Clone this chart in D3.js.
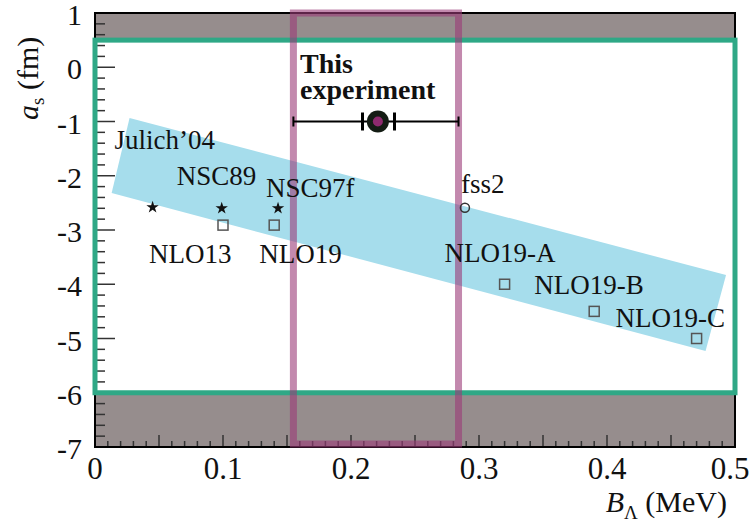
<!DOCTYPE html>
<html>
<head>
<meta charset="utf-8">
<script src="https://cdn.jsdelivr.net/npm/d3@7"></script>
<style>
  body { margin: 0; background: #fff; }
  text { font-family: "Liberation Serif", "Times New Roman", serif; }
</style>
</head>
<body>
<div id="chart"></div>
<script>
// model predictions: B_Lambda (MeV) vs a_s (fm)
var starNames = ["Julich\u201904", "NSC89", "NSC97f"];
var starX = [0.045, 0.099, 0.143];
var starY = [-2.58, -2.6, -2.6];

var squareNames = ["NLO13", "NLO19", "NLO19-A", "NLO19-B", "NLO19-C"];
var squareX = [0.100, 0.140, 0.320, 0.390, 0.470];
var squareY = [-2.91, -2.91, -4.0, -4.5, -5.0];

var circleNames = ["fss2"];
var circleX = [0.289];
var circleY = [-2.59];

// this experiment
var expX = 0.221, expY = -1.0;
var expStat = [0.209, 0.234];
var expTot = [0.155, 0.284];

// allowed a_s region (green) and correlation band (blue)
var aRange = [-6.0, 0.5];
var bandCorners = [[0.027, -0.935], [0.493, -3.83], [0.477, -5.23], [0.013, -2.32]];

var xTickValues = [0, 0.1, 0.2, 0.3, 0.4, 0.5];
var xTickLabels = ["0", "0.1", "0.2", "0.3", "0.4", "0.5"];
var yTickValues = [1, 0, -1, -2, -3, -4, -5, -6, -7];
var yTickLabels = ["1", "0", "-1", "-2", "-3", "-4", "-5", "-6", "-7"];

// label offsets from each marker (px)
var labelOffsets = {
  "Julich\u201904": [-38, -58], "NSC89": [-45, -23], "NSC97f": [-12, -11],
  "NLO13": [-74, 38], "NLO19": [-15, 38], "fss2": [-4, -15],
  "NLO19-A": [-60, -22], "NLO19-B": [-60, -17], "NLO19-C": [-81, -12]
};

var width = 751, height = 524;
var x = d3.scaleLinear().domain([0, 0.5]).range([95, 735]);
var y = d3.scaleLinear().domain([-7, 1]).range([447, 13]);

var svg = d3.select("#chart").append("svg")
    .attr("width", width).attr("height", height);

// gray excluded bands
svg.append("rect")
    .attr("x", x(0)).attr("y", y(1))
    .attr("width", x(0.5) - x(0)).attr("height", y(aRange[1]) - y(1))
    .attr("fill", "#968d8d");
svg.append("rect")
    .attr("x", x(0)).attr("y", y(aRange[0]))
    .attr("width", x(0.5) - x(0)).attr("height", y(-7) - y(aRange[0]))
    .attr("fill", "#968d8d");

// blue band
svg.append("polygon")
    .attr("points", bandCorners.map(function(c) { return x(c[0]) + "," + y(c[1]); }).join(" "))
    .attr("fill", "#a6ddec");

// ticks
var ticks = svg.append("g").attr("stroke", "#333").attr("stroke-width", 1.5);
d3.range(0, 50.5, 1).forEach(function(i) {
  var v = i / 100;
  var len = (i % 5 === 0) ? 12 : 6;
  ticks.append("line")
      .attr("x1", x(v)).attr("x2", x(v))
      .attr("y1", y(-7)).attr("y2", y(-7) - len);
});
d3.range(0, 41, 1).forEach(function(i) {
  var v = 1 - i * 0.2;
  var len = (i % 5 === 0) ? 20 : 10;
  ticks.append("line")
      .attr("x1", x(0)).attr("x2", x(0) + len)
      .attr("y1", y(v)).attr("y2", y(v));
});

// frame
svg.append("rect")
    .attr("x", x(0)).attr("y", y(1))
    .attr("width", x(0.5) - x(0)).attr("height", y(-7) - y(1))
    .attr("fill", "none").attr("stroke", "#000").attr("stroke-width", 2);

// green box
svg.append("rect")
    .attr("x", x(0)).attr("y", y(aRange[1]))
    .attr("width", x(0.5) - x(0)).attr("height", y(aRange[0]) - y(aRange[1]))
    .attr("fill", "none").attr("stroke", "#2fa886").attr("stroke-width", 5);

// purple box: this experiment's range
svg.append("rect")
    .attr("x", x(expTot[0])).attr("y", y(1))
    .attr("width", x(expTot[1]) - x(expTot[0])).attr("height", y(-7) - 3 - y(1))
    .attr("fill", "none").attr("stroke", "#9b3a78")
    .attr("stroke-opacity", 0.6).attr("stroke-width", 7);

// markers
var starSym = d3.symbol().type(d3.symbolStar).size(48);
svg.append("g").selectAll("path")
    .data(starX)
    .enter().append("path")
    .attr("d", starSym)
    .attr("transform", function(d, i) { return "translate(" + x(d) + "," + y(starY[i]) + ")"; })
    .attr("fill", "#111");

svg.append("g").selectAll("rect")
    .data(squareX)
    .enter().append("rect")
    .attr("x", function(d) { return x(d) - 5; })
    .attr("y", function(d, i) { return y(squareY[i]) - 5; })
    .attr("width", 10).attr("height", 10)
    .attr("fill", "none").attr("stroke", "#555").attr("stroke-width", 1.5);

svg.append("g").selectAll("circle")
    .data(circleX)
    .enter().append("circle")
    .attr("cx", function(d) { return x(d); })
    .attr("cy", function(d, i) { return y(circleY[i]); })
    .attr("r", 4.5)
    .attr("fill", "none").attr("stroke", "#333").attr("stroke-width", 1.5);

// model labels
function addLabels(names, xs, ys) {
  svg.append("g").selectAll("text")
      .data(names)
      .enter().append("text")
      .attr("x", function(d, i) { return x(xs[i]) + labelOffsets[d][0]; })
      .attr("y", function(d, i) { return y(ys[i]) + labelOffsets[d][1]; })
      .attr("font-size", 27)
      .attr("fill", "#111")
      .text(function(d) { return d; });
}
addLabels(starNames, starX, starY);
addLabels(squareNames, squareX, squareY);
addLabels(circleNames, circleX, circleY);

// experiment point with errors
var ep = svg.append("g");
ep.append("line")
    .attr("x1", x(expTot[0])).attr("x2", x(expTot[1]))
    .attr("y1", y(expY)).attr("y2", y(expY))
    .attr("stroke", "#000").attr("stroke-width", 2);
expTot.forEach(function(v) {
  ep.append("line")
      .attr("x1", x(v)).attr("x2", x(v))
      .attr("y1", y(expY) - 5).attr("y2", y(expY) + 5)
      .attr("stroke", "#000").attr("stroke-width", 2);
});
expStat.forEach(function(v) {
  ep.append("line")
      .attr("x1", x(v)).attr("x2", x(v))
      .attr("y1", y(expY) - 9).attr("y2", y(expY) + 9)
      .attr("stroke", "#000").attr("stroke-width", 3);
});
ep.append("circle")
    .attr("cx", x(expX)).attr("cy", y(expY)).attr("r", 11)
    .attr("fill", "#141c14");
ep.append("circle")
    .attr("cx", x(expX)).attr("cy", y(expY)).attr("r", 5)
    .attr("fill", "#8e2a6e");

var et = svg.append("text")
    .attr("font-size", 28).attr("font-weight", "bold").attr("fill", "#111");
et.append("tspan").attr("x", 300).attr("y", 73).text("This");
et.append("tspan").attr("x", 300).attr("y", 99).text("experiment");

// tick labels
svg.append("g").selectAll("text")
    .data(xTickValues)
    .enter().append("text")
    .attr("x", function(d) { return x(d); })
    .attr("y", 479)
    .attr("text-anchor", "middle")
    .attr("font-size", 31).attr("fill", "#111")
    .attr("dx", function(d) { return d === 0.5 ? -5 : 0; })
    .text(function(d, i) { return xTickLabels[i]; });

svg.append("g").selectAll("text")
    .data(yTickValues)
    .enter().append("text")
    .attr("x", 82)
    .attr("y", function(d) { return y(d) + 12; })
    .attr("text-anchor", "end")
    .attr("font-size", 30).attr("fill", "#111")
    .text(function(d, i) { return yTickLabels[i]; });

// axis titles
var xt = svg.append("text")
    .attr("x", 727).attr("y", 512)
    .attr("text-anchor", "end")
    .attr("font-size", 30).attr("fill", "#111");
xt.append("tspan").attr("font-style", "italic").text("B");
xt.append("tspan").attr("font-size", 19).attr("dy", 7).text("\u039B");
xt.append("tspan").attr("dy", -7).text(" (MeV)");

var yt = svg.append("text")
    .attr("transform", "translate(38,120) rotate(-90)")
    .attr("font-size", 30).attr("fill", "#111");
yt.append("tspan").attr("font-style", "italic").text("a");
yt.append("tspan").attr("font-size", 19).attr("dy", 6).text("s");
yt.append("tspan").attr("dy", -6).text(" (fm)");
</script>
</body>
</html>
